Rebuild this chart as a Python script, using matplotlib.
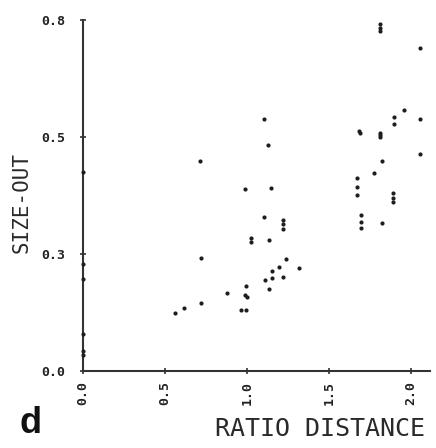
import matplotlib
matplotlib.use("Agg")
import matplotlib.pyplot as plt

# ---- data ----
ratio_distance = [
    1.808, 1.808, 1.808, 2.052, 1.101, 1.960, 1.896, 2.057, 1.896, 1.128,
    1.680, 1.686, 1.813, 1.813, 1.813, 2.057, 0.988, 1.144, 1.821, 1.776,
    1.668, 1.671, 1.671, 1.893, 1.893, 1.893, 1.104, 1.221, 1.221, 1.221,
    1.697, 1.697, 1.695, 1.821, 0.715, 1.024, 1.024, 1.134, 0.721, 1.236,
    1.195, 1.154, 1.315, 1.110, 1.154, 1.221, 1.136, 0.996, 0.986, 0.998,
    0.875, 0.721, 0.616, 0.559, 0.963, 0.996,
    0.0, 0.0, 0.0, 0.0, 0.0, 0.0,
]
size_out = [
    0.791, 0.782, 0.775, 0.736, 0.574, 0.596, 0.580, 0.574, 0.562, 0.516,
    0.546, 0.543, 0.542, 0.538, 0.533, 0.495, 0.414, 0.418, 0.479, 0.452,
    0.439, 0.420, 0.401, 0.406, 0.394, 0.386, 0.351, 0.345, 0.334, 0.324,
    0.355, 0.339, 0.326, 0.337, 0.478, 0.302, 0.295, 0.299, 0.258, 0.256,
    0.237, 0.229, 0.235, 0.208, 0.211, 0.215, 0.188, 0.193, 0.173, 0.169,
    0.178, 0.154, 0.143, 0.133, 0.139, 0.139,
    0.454, 0.244, 0.210, 0.084, 0.046, 0.037,
]
x_ticks = [0.0, 0.5, 1.0, 1.5, 2.0]
x_tick_labels = ["0.0", "0.5", "1.0", "1.5", "2.0"]
y_max = 0.8
y_tick_labels = ["0.0", "0.3", "0.5", "0.8"]

# ---- figure ----
fig = plt.figure(figsize=(4.36, 4.48), dpi=100)
ax = fig.add_axes([83 / 436, 1 - 371 / 448, (430 - 83) / 436, (371 - 20) / 448])

ax.scatter(ratio_distance, size_out, s=9, color="#1e1e1e", linewidths=0,
           clip_on=False, zorder=3)

ax.set_xlim(0, (430 - 83) / 164)
ax.set_ylim(0, y_max)

y_ticks = [y_max * i / (len(y_tick_labels) - 1) for i in range(len(y_tick_labels))]
ax.set_xticks(x_ticks)
ax.set_xticklabels(x_tick_labels, rotation=90, fontfamily="DejaVu Sans Mono",
                   fontweight="bold", fontsize=9.5, color="#222222")
ax.set_yticks(y_ticks)
ax.set_yticklabels(y_tick_labels, fontfamily="DejaVu Sans Mono",
                   fontweight="bold", fontsize=9.5, color="#222222",
                   va="center_baseline")

for side in ("top", "right"):
    ax.spines[side].set_visible(False)
for side in ("left", "bottom"):
    ax.spines[side].set_color("#333333")
    ax.spines[side].set_linewidth(1.5)

ax.tick_params(axis="both", direction="inout", length=5, width=1.2,
               color="#333333")
ax.tick_params(axis="y", pad=10)
ax.tick_params(axis="x", pad=5)

fig.text(22 / 436, 1 - 202 / 448, "SIZE-OUT", rotation=90, ha="center",
         va="center", fontfamily="DejaVu Sans Mono", fontsize=15,
         color="#2a2a2a")
fig.text(320 / 436, 1 - 429 / 448, "RATIO DISTANCE", ha="center", va="center",
         fontfamily="DejaVu Sans Mono", fontsize=18, color="#2a2a2a")
fig.text(31 / 436, 1 - 423 / 448, "d", ha="center", va="center",
         fontfamily="Liberation Sans", fontweight="bold", fontsize=26,
         color="#111111")

fig.savefig("out.png", dpi=100)
